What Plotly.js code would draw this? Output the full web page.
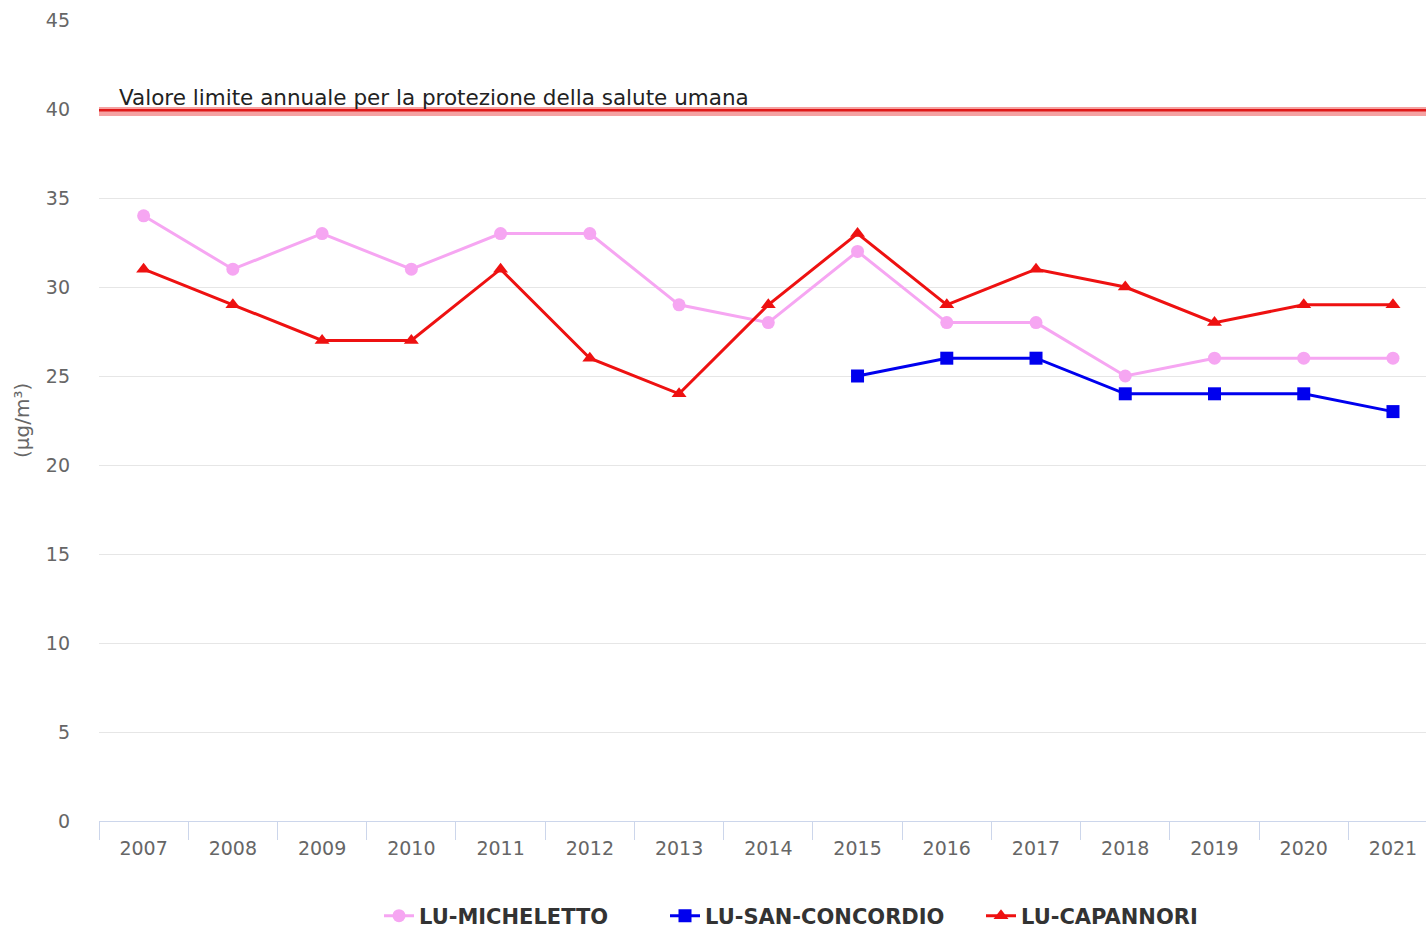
<!DOCTYPE html>
<html><head><meta charset="utf-8">
<script src="https://cdn.plot.ly/plotly-3.0.1.min.js"></script>
<style>html,body{margin:0;padding:0;background:#fff;}#chart{width:1426px;height:928px;}</style>
</head><body><div id="chart"></div>
<script>
const years = ['2007','2008','2009','2010','2011','2012','2013','2014','2015','2016','2017','2018','2019','2020','2021'];
const micheletto = [34,31,33,31,33,33,29,28,32,28,28,25,26,26,26];
const sanConcordio = [null,null,null,null,null,null,null,null,25,26,26,24,24,24,23];
const capannori = [31,29,27,27,31,26,24,29,33,29,31,30,28,29,29];
const limitValue = 40;
const limitLabel = 'Valore limite annuale per la protezione della salute umana';
const yTitle = '(µg/m³)';

const traces = [
  {x: years, y: micheletto, name: 'LU-MICHELETTO', type: 'scatter', mode: 'lines+markers', legend: 'legend',
   line: {color: '#f6a6f2', width: 3}, marker: {symbol: 'circle', size: 13, color: '#f6a6f2'}},
  {x: years, y: sanConcordio, name: 'LU-SAN-CONCORDIO', type: 'scatter', mode: 'lines+markers', legend: 'legend2',
   line: {color: '#0000ee', width: 3}, marker: {symbol: 'square', size: 13, color: '#0000ee'}},
  {x: years, y: capannori, name: 'LU-CAPANNORI', type: 'scatter', mode: 'lines+markers', legend: 'legend3',
   line: {color: '#ee1111', width: 3}, marker: {symbol: 'triangle-up', size: 13, color: '#ee1111'}}
];

const legendFont = {size: 21, color: '#333', family: 'DejaVu Sans, sans-serif', weight: 'bold'};
function legendAt(px) {
  return {orientation: 'h', xref: 'container', yref: 'container', x: px/1426, xanchor: 'left',
    y: (928-916)/928, yanchor: 'middle', font: legendFont, bgcolor: 'rgba(0,0,0,0)'};
}

const layout = {
  width: 1426, height: 928,
  margin: {l: 99, r: 0, t: 20, b: 107},
  paper_bgcolor: '#fff', plot_bgcolor: '#fff',
  font: {family: 'DejaVu Sans, sans-serif', color: '#666'},
  xaxis: {type: 'category', range: [-0.5, 14.37], showgrid: false, zeroline: false,
    showline: true, linecolor: '#ccd6eb', linewidth: 1,
    ticks: 'outside', tickson: 'boundaries', ticklen: 18, tickcolor: '#ccd6eb', tickwidth: 1,
    ticklabelstandoff: 10,
    tickfont: {size: 19, color: '#666'}},
  yaxis: {range: [0, 45], dtick: 5, showgrid: true, gridcolor: '#e6e6e6', zeroline: false,
    showline: false, ticks: '', ticklabelstandoff: 28,
    tickfont: {size: 19, color: '#666'}},
  shapes: [
    {type: 'line', xref: 'paper', x0: 0, x1: 1, yref: 'y', y0: limitValue - 0.14, y1: limitValue - 0.14,
     line: {color: 'rgba(235,70,70,0.5)', width: 9}},
    {type: 'line', xref: 'paper', x0: 0, x1: 1, yref: 'y', y0: limitValue - 0.07, y1: limitValue - 0.07,
     line: {color: '#e01818', width: 2.5}}
  ],
  annotations: [
    {text: limitLabel, xref: 'paper', x: 18/1327, xanchor: 'left', yref: 'y', y: limitValue,
     yanchor: 'bottom', yshift: -3, showarrow: false, font: {size: 21.5, color: '#222'}},
    {text: yTitle, xref: 'paper', x: (22-99)/1327, xanchor: 'center', yref: 'paper', y: (821-421)/801,
     yanchor: 'middle', textangle: -90, showarrow: false, font: {size: 20, color: '#666'}}
  ],
  showlegend: true,
  legend: legendAt(379),
  legend2: legendAt(665),
  legend3: legendAt(981)
};
Plotly.newPlot('chart', traces, layout, {displayModeBar: false});
</script></body></html>
